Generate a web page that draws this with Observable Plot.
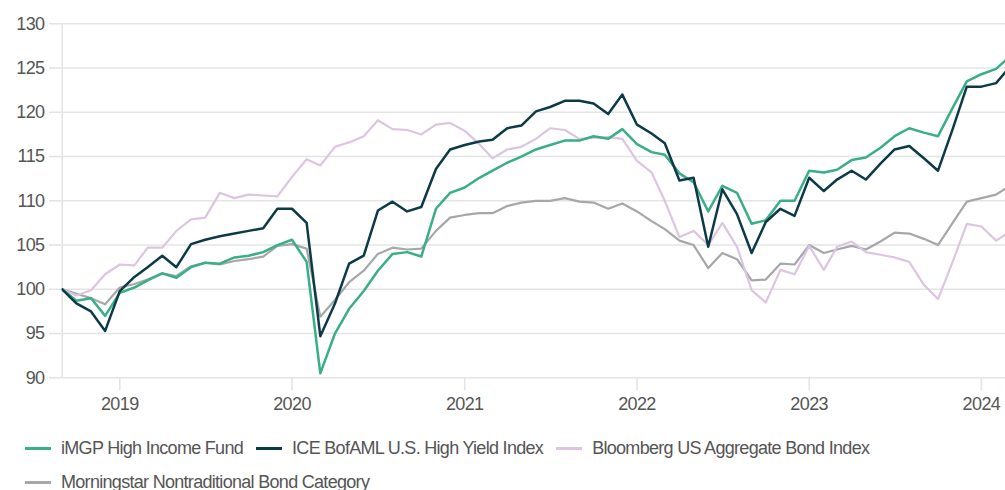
<!DOCTYPE html>
<html>
<head>
<meta charset="utf-8">
<script src="https://cdn.jsdelivr.net/npm/d3@7"></script>
<script src="https://cdn.jsdelivr.net/npm/@observablehq/plot@0.6"></script>
<style>
  html, body { margin: 0; padding: 0; background: #fff; overflow: hidden; }
  body { width: 1005px; height: 490px; font-family: "Liberation Sans", Arial, sans-serif; }
  #legend { display: flex; flex-wrap: wrap; padding: 6px 0 0 25px; box-sizing: border-box; width: 1005px; }
  .item { display: flex; align-items: center; height: 34px; margin-right: 13px; }
  .sw { width: 26px; height: 3px; margin-right: 10px; }
  .lbl { font-size: 18px; letter-spacing: -0.7px; color: #555; white-space: nowrap; }
</style>
</head>
<body>
<div id="chart"></div>
<div id="legend"></div>
<script>
// Series names and colours
const seriesNames = [
  "iMGP High Income Fund",
  "ICE BofAML U.S. High Yield Index",
  "Bloomberg US Aggregate Bond Index",
  "Morningstar Nontraditional Bond Category"
];
const seriesColors = ["#3aae86", "#0c3a47", "#dcc5e1", "#a5a7a9"];

// Monthly growth of 100, Sep 2018 – Mar 2024
const firstMonth = "2018-09-01";
const imgp = [100,98.7,99.0,97.0,99.6,100.2,101.0,101.8,101.3,102.5,103.0,102.9,103.6,103.8,104.2,105.0,105.6,103.1,90.5,95.0,97.8,99.8,102.1,104.0,104.2,103.7,109.1,110.9,111.5,112.6,113.4,114.3,115.0,115.8,116.3,116.8,116.8,117.3,117.0,118.1,116.4,115.5,115.2,113.1,112.1,108.8,111.7,110.9,107.4,107.8,110.0,110.0,113.4,113.2,113.5,114.6,114.9,116.0,117.3,118.2,117.7,117.3,120.5,123.5,124.3,124.9,126.3];
const iceHY = [100,98.4,97.5,95.3,99.8,101.4,102.5,103.8,102.5,105.1,105.6,106.0,106.3,106.6,106.9,109.1,109.1,107.5,94.7,98.4,102.9,103.8,108.9,109.9,108.8,109.3,113.6,115.8,116.3,116.7,116.9,118.2,118.5,120.1,120.6,121.3,121.3,121.0,119.8,122.0,118.6,117.6,116.5,112.3,112.6,104.8,111.3,108.5,104.1,107.6,109.1,108.3,112.6,111.1,112.4,113.4,112.4,114.2,115.8,116.2,114.8,113.4,118.1,122.9,122.9,123.3,125.1];
const bbgAgg = [100,99.3,99.9,101.7,102.8,102.7,104.7,104.7,106.6,107.9,108.1,110.9,110.3,110.7,110.6,110.5,112.7,114.7,114.0,116.1,116.6,117.3,119.1,118.1,118.0,117.5,118.6,118.8,117.9,116.4,114.8,115.8,116.1,117.0,118.2,118.0,117.0,117.1,117.2,117.0,114.5,113.2,110.0,105.9,106.6,105.0,107.5,104.8,99.9,98.5,102.2,101.7,104.9,102.2,104.8,105.4,104.2,103.9,103.6,103.1,100.5,98.9,103.1,107.4,107.1,105.5,106.5];
const msNontrad = [100,99.5,99.0,98.3,100.2,100.6,101.1,101.8,101.5,102.6,103.0,102.8,103.2,103.4,103.7,104.9,105.1,104.6,96.9,98.8,100.8,102.1,104.0,104.7,104.5,104.6,106.6,108.1,108.4,108.6,108.6,109.4,109.8,110.0,110.0,110.3,109.9,109.8,109.1,109.7,108.8,107.7,106.8,105.5,105.0,102.4,104.1,103.4,101.0,101.1,102.9,102.8,105.0,104.1,104.5,104.9,104.5,105.4,106.4,106.3,105.7,105.0,107.5,109.9,110.3,110.7,111.7];

// Axis ticks
const yTicks = [90, 95, 100, 105, 110, 115, 120, 125, 130];
const xTickYears = ["2019", "2020", "2021", "2022", "2023", "2024"];

const seriesValues = [imgp, iceHY, bbgAgg, msNontrad];
const start = new Date(firstMonth);
const months = imgp.map((_, i) => d3.utcMonth.offset(start, i));
const rows = [];
seriesNames.forEach((name, s) => {
  seriesValues[s].forEach((v, i) => rows.push({series: name, date: months[i], value: v}));
});

const drawOrder = [3, 2, 0, 1];
const lineMarks = drawOrder.map(s => Plot.lineY(rows.filter(r => r.series === seriesNames[s]), {
  x: "date", y: "value", stroke: seriesColors[s], strokeWidth: s < 2 ? 2.5 : 2.2, clip: true
}));

const chart = Plot.plot({
  width: 1005,
  height: 425,
  marginTop: 23.3,
  marginLeft: 61.7,
  marginRight: 0,
  marginBottom: 47.7,
  style: {fontFamily: "'Liberation Sans', Arial, sans-serif", fontSize: "18px", letterSpacing: "-0.6px", color: "#555", background: "#fff"},
  x: {type: "utc", domain: [start, new Date("2024-02-21")]},
  y: {domain: [90, 130]},
  marks: [
    Plot.ruleY(yTicks, {stroke: "#e4e4e4", strokeWidth: 1.6}),
    Plot.ruleX([start], {stroke: "#e4e4e4", strokeWidth: 1.6}),
    Plot.axisY({ticks: yTicks, tickSize: 12.7, tickPadding: 5, stroke: "#e4e4e4", strokeWidth: 1.6, strokeOpacity: 1, fill: "#555", label: null}),
    Plot.axisX({ticks: xTickYears.map(y => new Date(y + "-01-01")), tickFormat: d3.utcFormat("%Y"), tickSize: 13, tickPadding: 6, stroke: "#e4e4e4", strokeWidth: 1.6, strokeOpacity: 1, fill: "#555", label: null}),
    ...lineMarks
  ]
});
document.getElementById("chart").appendChild(chart);

const legend = document.getElementById("legend");
seriesNames.forEach((name, s) => {
  const item = document.createElement("div");
  item.className = "item";
  const sw = document.createElement("span");
  sw.className = "sw";
  sw.style.background = seriesColors[s];
  const lbl = document.createElement("span");
  lbl.className = "lbl";
  lbl.textContent = name;
  item.appendChild(sw);
  item.appendChild(lbl);
  legend.appendChild(item);
});
</script>
</body>
</html>
